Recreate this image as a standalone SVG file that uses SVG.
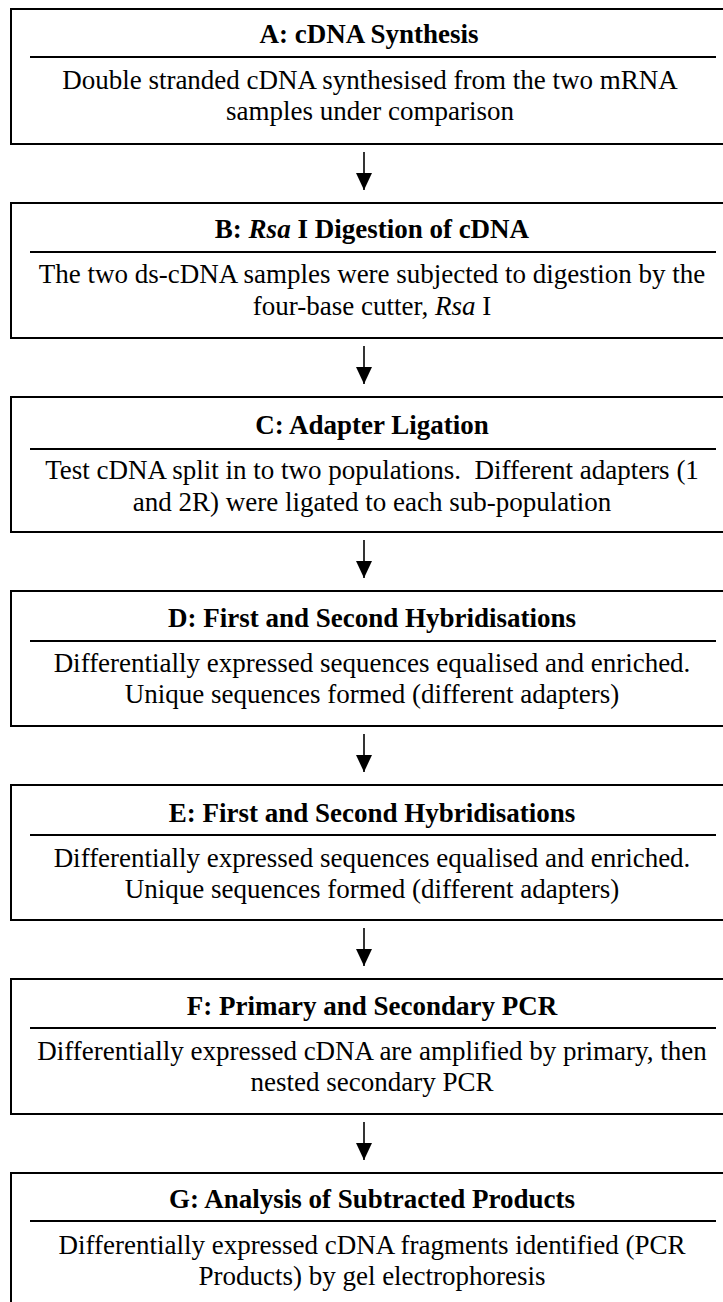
<svg xmlns="http://www.w3.org/2000/svg" width="723" height="1302" viewBox="0 0 723 1302">
<defs>
<marker id="ah" markerWidth="18" markerHeight="16" refX="17" refY="8" orient="auto" markerUnits="userSpaceOnUse" viewBox="0 0 18 16">
<path d="M0,0 L17,8 L0,16 Z" fill="#000"/>
</marker>
</defs>
<style>
.box{fill:#fff;stroke:#000;stroke-width:2}
.hl{stroke:#000;stroke-width:2}
.t{font-family:"Liberation Serif","Times New Roman",serif;font-size:27px;font-weight:bold;text-anchor:middle;fill:#000}
.b{font-family:"Liberation Serif","Times New Roman",serif;font-size:27px;text-anchor:middle;fill:#000}
.c{stroke:#000;stroke-width:1.6;fill:none}
</style>
<rect width="723" height="1302" fill="#fff"/>
<g id="connectors">
<line class="c" x1="364" y1="152" x2="364" y2="190" marker-end="url(#ah)"/>
<line class="c" x1="364" y1="346" x2="364" y2="384" marker-end="url(#ah)"/>
<line class="c" x1="364" y1="540" x2="364" y2="578" marker-end="url(#ah)"/>
<line class="c" x1="364" y1="734" x2="364" y2="772" marker-end="url(#ah)"/>
<line class="c" x1="364" y1="928" x2="364" y2="966" marker-end="url(#ah)"/>
<line class="c" x1="364" y1="1122" x2="364" y2="1160" marker-end="url(#ah)"/>
</g>
<g id="nodeA">
<rect class="box" x="11" y="9" width="740" height="135"/>
<line class="hl" x1="30" y1="57" x2="716" y2="57"/>
<text class="t" x="369" y="43">A: cDNA Synthesis</text>
<text class="b" x="370" y="89">Double stranded cDNA synthesised from the two mRNA</text>
<text class="b" x="370" y="120">samples under comparison</text>
</g>
<g id="nodeB">
<rect class="box" x="11" y="203" width="740" height="135"/>
<line class="hl" x1="30" y1="252" x2="716" y2="252"/>
<text class="t" x="372" y="238">B: <tspan font-style="italic">Rsa</tspan> I Digestion of cDNA</text>
<text class="b" x="372" y="283">The two ds-cDNA samples were subjected to digestion by the</text>
<text class="b" x="372" y="315">four-base cutter, <tspan font-style="italic">Rsa</tspan> I</text>
</g>
<g id="nodeC">
<rect class="box" x="11" y="397" width="740" height="135"/>
<line class="hl" x1="30" y1="449" x2="716" y2="449"/>
<text class="t" x="372" y="434">C: Adapter Ligation</text>
<text class="b" x="372" y="479" xml:space="preserve">Test cDNA split in to two populations.  Different adapters (1</text>
<text class="b" x="372" y="511">and 2R) were ligated to each sub-population</text>
</g>
<g id="nodeD">
<rect class="box" x="11" y="591" width="740" height="135"/>
<line class="hl" x1="30" y1="641" x2="716" y2="641"/>
<text class="t" x="372" y="627">D: First and Second Hybridisations</text>
<text class="b" x="372" y="672">Differentially expressed sequences equalised and enriched.</text>
<text class="b" x="372" y="703">Unique sequences formed (different adapters)</text>
</g>
<g id="nodeE">
<rect class="box" x="11" y="785" width="740" height="135"/>
<line class="hl" x1="30" y1="835" x2="716" y2="835"/>
<text class="t" x="372" y="822">E: First and Second Hybridisations</text>
<text class="b" x="372" y="867">Differentially expressed sequences equalised and enriched.</text>
<text class="b" x="372" y="898">Unique sequences formed (different adapters)</text>
</g>
<g id="nodeF">
<rect class="box" x="11" y="979" width="740" height="135"/>
<line class="hl" x1="30" y1="1028" x2="716" y2="1028"/>
<text class="t" x="372" y="1015">F: Primary and Secondary PCR</text>
<text class="b" x="372" y="1060">Differentially expressed cDNA are amplified by primary, then</text>
<text class="b" x="372" y="1091">nested secondary PCR</text>
</g>
<g id="nodeG">
<rect class="box" x="11" y="1173" width="740" height="135"/>
<line class="hl" x1="30" y1="1221" x2="716" y2="1221"/>
<text class="t" x="372" y="1208">G: Analysis of Subtracted Products</text>
<text class="b" x="372" y="1254">Differentially expressed cDNA fragments identified (PCR</text>
<text class="b" x="372" y="1285">Products) by gel electrophoresis</text>
</g>
</svg>
